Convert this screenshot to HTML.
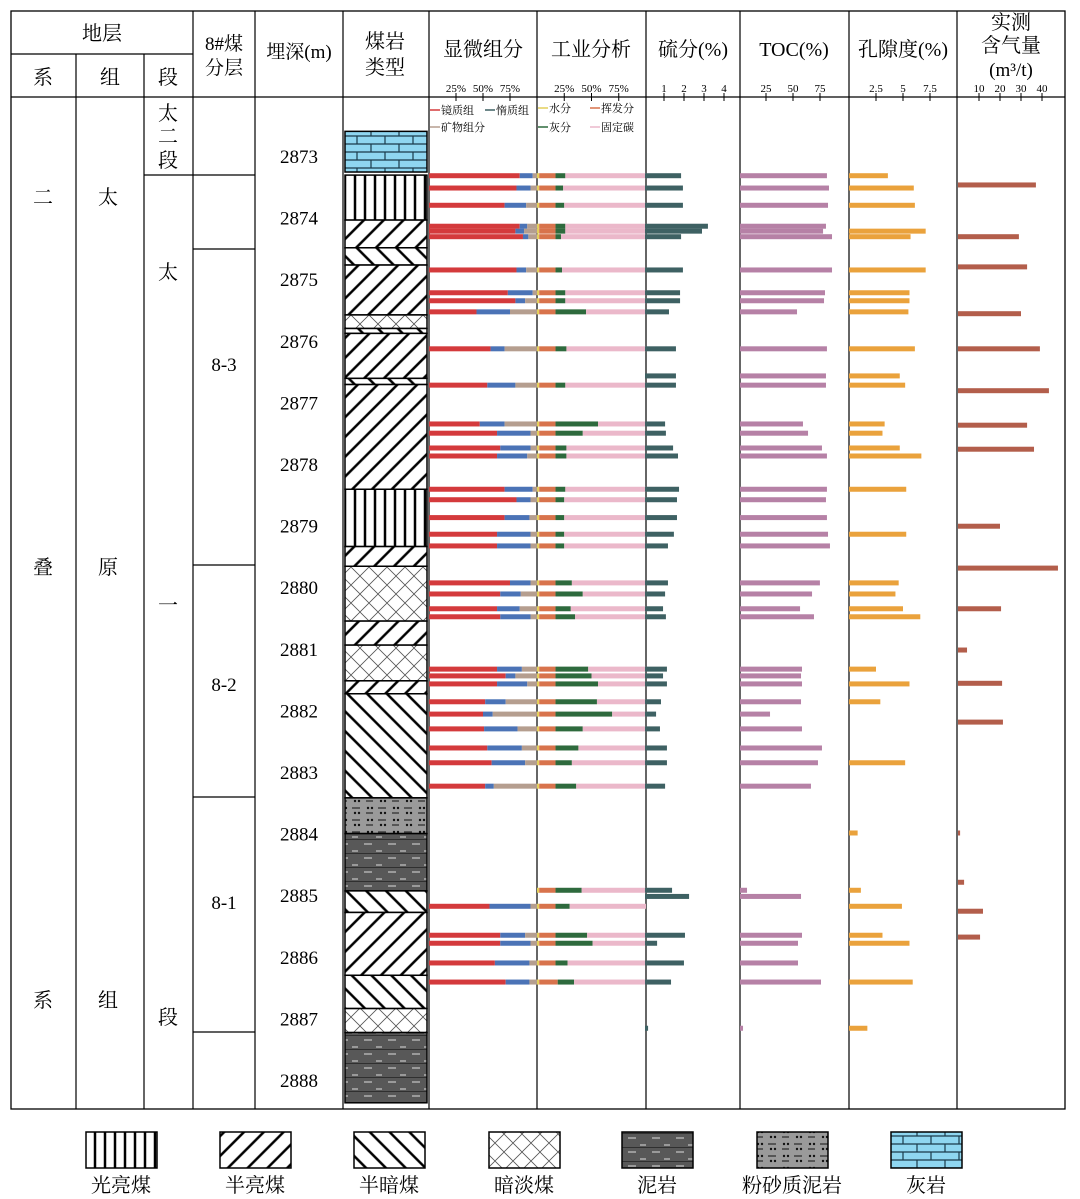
<!DOCTYPE html>
<html><head><meta charset="utf-8"><style>
html,body{margin:0;padding:0;background:#fff;}
svg{display:block;font-family:"Liberation Serif","Noto Serif CJK SC",serif;}
</style></head><body>
<svg id="c" width="1080" height="1199" viewBox="0 0 1080 1199" xmlns="http://www.w3.org/2000/svg">
<defs>
<pattern id="pBright" width="10" height="10" patternUnits="userSpaceOnUse"><rect width="10" height="10" fill="#fff"/><line x1="5" y1="0" x2="5" y2="10" stroke="#000" stroke-width="2.5"/></pattern>
<pattern id="pSemiB" width="14" height="14" patternUnits="userSpaceOnUse" patternTransform="rotate(45)"><rect width="14" height="14" fill="#fff"/><line x1="7" y1="0" x2="7" y2="14" stroke="#000" stroke-width="2.5"/></pattern>
<pattern id="pSemiD" width="14" height="14" patternUnits="userSpaceOnUse" patternTransform="rotate(-45)"><rect width="14" height="14" fill="#fff"/><line x1="7" y1="0" x2="7" y2="14" stroke="#000" stroke-width="2.5"/></pattern>
<pattern id="pDull" width="18" height="18" patternUnits="userSpaceOnUse"><rect width="18" height="18" fill="#fff"/><path d="M0 0L18 18M18 0L0 18" stroke="#555" stroke-width="0.8"/></pattern>
<pattern id="pMud" width="24" height="14" patternUnits="userSpaceOnUse"><rect width="24" height="14" fill="#585858"/><line x1="4" y1="4" x2="12" y2="4" stroke="#ddd" stroke-width="1"/><line x1="16" y1="11" x2="22" y2="11" stroke="#ddd" stroke-width="1"/><line x1="0" y1="13.5" x2="24" y2="13.5" stroke="#222" stroke-width="0.8"/></pattern>
<pattern id="pSilt" width="26" height="12" patternUnits="userSpaceOnUse"><rect width="26" height="12" fill="#9a9a9a"/><circle cx="4" cy="4" r="1.2" fill="#111"/><circle cx="8" cy="4" r="1.2" fill="#111"/><line x1="14" y1="4" x2="22" y2="4" stroke="#111"/><line x1="2" y1="9" x2="9" y2="9" stroke="#111"/><circle cx="17" cy="9" r="1.2" fill="#111"/><circle cx="21" cy="9" r="1.2" fill="#111"/></pattern>
<pattern id="pLime" width="28" height="16" patternUnits="userSpaceOnUse"><rect width="28" height="16" fill="#8fd6f0"/><path d="M0 0H28M0 8H28M0 16H28M7 0V8M21 8V16" stroke="#1a3a4a" stroke-width="1.2"/></pattern>
</defs>
<g id="grid"></g>
<g id="lith"></g>
<g id="bars"></g>
<g id="txt"></g>
</svg>
<script>
// ---- data ----
const rowDepth=[2873.32,2873.52,2873.80,2874.14,2874.22,2874.31,2874.85,2875.22,2875.35,2875.53,2876.13,2876.57,2876.72,2877.35,2877.50,2877.74,2877.87,2878.41,2878.58,2878.87,2879.14,2879.33,2879.93,2880.11,2880.35,2880.48,2881.33,2881.44,2881.57,2881.86,2882.06,2882.30,2882.61,2882.85,2883.23,2883.99,2884.92,2885.02,2885.18,2885.65,2885.78,2886.10,2886.41,2887.16];
const vitrinite=[84,81,70,84,80,87,81,73,80,44,57,null,54,47,63,66,63,70,81,70,63,63,75,66,63,66,63,71,63,52,50,51,54,58,52,null,null,null,56,66,66,61,71,null];
const inertinite=[12,13,20,7,8,5,9,23,9,31,13,null,26,23,31,28,28,26,13,23,31,31,19,19,21,28,23,9,28,19,9,31,32,31,8,null,null,null,38,23,28,32,22,null];
const moisture=[2,2,2,2,2,2,2,2,2,2,2,null,2,2,2,2,2,2,2,2,2,2,2,2,2,2,2,2,2,2,2,2,2,2,2,null,2,null,2,2,2,2,2,null];
const volatile=[15,15,15,15,15,15,15,15,15,15,15,null,15,15,15,15,15,15,15,15,15,15,15,15,15,15,15,15,15,15,15,15,15,15,15,null,15,null,15,15,15,15,17,null];
const ash=[9,7,8,9,9,5,6,9,9,28,10,null,9,39,25,10,10,9,8,8,8,8,15,25,14,18,30,33,39,38,52,25,21,15,19,null,24,null,13,29,34,11,15,null];
const sulfur=[1.76,1.85,1.85,3.07,2.78,1.76,1.85,1.71,1.71,1.17,1.51,1.51,1.51,0.98,1.02,1.37,1.61,1.66,1.56,1.56,1.41,1.12,1.12,0.98,0.88,1.02,1.07,0.88,1.07,0.78,0.54,0.73,1.07,1.07,0.98,null,1.32,2.15,null,1.95,0.59,1.9,1.27,0.15];
const toc=[80.5,82.4,81.5,79.6,76.9,85.2,85.2,78.7,77.8,52.8,80.5,79.6,79.6,58.3,63,75.9,80.5,80.5,79.6,80.5,81.5,83.3,74,66.7,55.6,68.5,57.4,56.5,57.4,56.5,27.8,57.4,75.9,72.2,65.7,null,6.5,56.5,null,57.4,53.7,53.7,75,2.8];
const porosity=[3.6,6.0,6.1,null,7.1,5.7,7.1,5.6,5.6,5.5,6.1,4.7,5.2,3.3,3.1,4.7,6.7,5.3,null,null,5.3,null,4.6,4.3,5.0,6.6,2.5,null,5.6,2.9,null,null,null,5.2,null,0.8,1.1,null,4.9,3.1,5.6,null,5.9,1.7];
const gasDepth=[2873.47,2874.31,2874.80,2875.56,2876.13,2876.81,2877.37,2877.76,2879.01,2879.69,2880.35,2881.02,2881.56,2882.19,2883.99,2884.79,2885.26,2885.68];
const gasContent=[37.1,29,32.9,30,39,43.3,32.9,36.2,20,47.6,20.5,4.3,21,21.4,1,2.9,11.9,10.5];
const depthTicks=[2873,2874,2875,2876,2877,2878,2879,2880,2881,2882,2883,2884,2885,2886,2887,2888];
const lithTop=[2872.6,2873.31,2874.04,2874.49,2874.77,2875.58,2875.80,2875.88,2876.61,2876.71,2878.41,2879.34,2879.66,2880.55,2880.94,2881.52,2881.73,2883.42,2884.0,2884.93,2885.28,2886.30,2886.84,2887.23];
const lithBot=[2873.26,2874.04,2874.49,2874.77,2875.58,2875.80,2875.88,2876.61,2876.71,2878.41,2879.34,2879.66,2880.55,2880.94,2881.52,2881.73,2883.42,2884.0,2884.93,2885.28,2886.30,2886.84,2887.23,2888.37];
const lithType=["pLime","pBright","pSemiB","pSemiD","pSemiB","pDull","pSemiD","pSemiB","pSemiD","pSemiB","pBright","pSemiB","pDull","pSemiB","pDull","pSemiB","pSemiD","pSilt","pMud","pSemiD","pSemiB","pSemiD","pDull","pMud"];

// ---- scales ----
const NS="http://www.w3.org/2000/svg";
const yD=d=>156+(d-2873)*61.6;
const xMicro=v=>429+v*1.08, xInd=v=>537+v*1.09, xS=v=>645+v*20.5, xToc=v=>740+v*1.08, xPor=v=>849+v*10.8, xGas=v=>958+v*2.1;
function el(tag,attrs,parent,text){const e=document.createElementNS(NS,tag);for(const k in attrs)e.setAttribute(k,attrs[k]);if(text!==undefined)e.textContent=text;parent.appendChild(e);return e;}
const G=document.getElementById('grid'),L=document.getElementById('lith'),B=document.getElementById('bars'),T=document.getElementById('txt');

// grid
el('rect',{x:11,y:11,width:1054,height:1098,fill:'none',stroke:'#000','stroke-width':1.3},G);
[76,144,193,255,343,429,537,646,740,849,957].forEach(x=>el('line',{x1:x,y1:x<193&&x>11?54:11,x2:x,y2:1109,stroke:'#000','stroke-width':1.2},G));
el('line',{x1:11,y1:54,x2:193,y2:54,stroke:'#000','stroke-width':1.2},G);
el('line',{x1:11,y1:97,x2:1065,y2:97,stroke:'#000','stroke-width':1.2},G);
el('line',{x1:144,y1:175,x2:255,y2:175,stroke:'#000','stroke-width':1.2},G);
[249,565,797,1032].forEach(y=>el('line',{x1:193,y1:y,x2:255,y2:y,stroke:'#000','stroke-width':1.2},G));

// lithology
for(let i=0;i<lithType.length;i++){
  const r=el('rect',{x:345,y:yD(lithTop[i]),width:82,height:yD(lithBot[i])-yD(lithTop[i]),fill:'url(#'+lithType[i]+')',stroke:'#000','stroke-width':1.5},L);
  
  
}

// bars
const H=5;
function bar(x1,x2,y,c,name){const r=el('rect',{x:x1,y:y-H/2,width:Math.max(0,x2-x1),height:H,fill:c},B);

}
for(let i=0;i<rowDepth.length;i++){
  const y=yD(rowDepth[i]);
  if(vitrinite[i]!=null){
    bar(xMicro(0),xMicro(vitrinite[i]),y,'#d43a3c','vitrinite-bar');
    bar(xMicro(vitrinite[i]),xMicro(vitrinite[i]+inertinite[i]),y,'#4b73b6','inertinite-bar');
    bar(xMicro(vitrinite[i]+inertinite[i]),xMicro(100),y,'#b59e8f','mineral-bar');
  }
  if(ash[i]!=null){
    const a=moisture[i],b=a+volatile[i],c=b+ash[i];
    bar(xInd(0),xInd(a),y,'#e3cf5c','moisture-bar');
    bar(xInd(a),xInd(b),y,'#d8734c','volatile-bar');
    bar(xInd(b),xInd(c),y,'#2e6a3d','ash-bar');
    bar(xInd(c),xInd(100),y,'#ebb8ca','fixed-carbon-bar');
  }
  if(sulfur[i]!=null) bar(xS(0),xS(sulfur[i]),y,'#3e6163','sulfur-bar');
  if(toc[i]!=null) bar(xToc(0),xToc(toc[i]),y,'#b681a6','toc-bar');
  if(porosity[i]!=null) bar(xPor(0),xPor(porosity[i]),y,'#eaa23c','porosity-bar');
}
for(let i=0;i<gasDepth.length;i++) bar(xGas(0),xGas(gasContent[i]),yD(gasDepth[i]),'#b35e4b','gas-content-bar');

// depth labels
depthTicks.forEach(d=>{const t=el('text',{x:299,y:yD(d)+7,'text-anchor':'middle','font-size':19},T,String(d));

});

// ticks
function ticks(vals,fx,labels){vals.forEach((v,k)=>{el('line',{x1:fx(v),y1:93,x2:fx(v),y2:101,stroke:'#000','stroke-width':1},T);
el('text',{x:fx(v),y:92,'text-anchor':'middle','font-size':11},T,labels[k]);});}
ticks([25,50,75],xMicro,['25%','50%','75%']);
ticks([25,50,75],xInd,['25%','50%','75%']);
ticks([1,2,3,4],v=>644+v*20,['1','2','3','4']);
ticks([25,50,75],v=>739+v*1.08,['25','50','75']);
ticks([2.5,5,7.5],xPor,['2.5','5','7.5']);
ticks([10,20,30,40],v=>958+v*2.1,['10','20','30','40']);

function tx(x,y,s,fs,name){const t=el('text',{x:x,y:y,'text-anchor':'middle','font-size':fs||20},T,s);

}
tx(102,40,'地层',20,'header-strata');tx(43,84,'系',20,'header-system');tx(110,84,'组',20,'header-formation');tx(168,84,'段',20,'header-member');
tx(224,50,'8#煤',19,'header-coal-layer');tx(224,74,'分层',19,'header-coal-layer');
tx(299,58,'埋深(m)',19,'header-depth');
tx(385,48,'煤岩',20,'header-coal-type');tx(385,74,'类型',20,'header-coal-type');
tx(483,56,'显微组分',20,'header-maceral');tx(591,56,'工业分析',20,'header-proximate');
tx(693,56,'硫分(%)',20,'header-sulfur');tx(794,56,'TOC(%)',20,'header-toc');tx(903,56,'孔隙度(%)',20,'header-porosity');
tx(1011,29,'实测',20,'header-gas');tx(1011,52,'含气量',20,'header-gas');tx(1011,76,'(m³/t)',19,'header-gas');
// legends in columns
function lg(x,y,c,s){el('line',{x1:x,y1:y-4,x2:x+10,y2:y-4,stroke:c,'stroke-width':1.5},T);el('text',{x:x+11,y:y,'font-size':11},T,s);}
lg(430,114,'#d43a3c','镜质组');lg(485,114,'#3e6163','惰质组');lg(430,131,'#b59e8f','矿物组分');
lg(538,112,'#e3cf5c','水分');lg(590,112,'#d8734c','挥发分');lg(538,131,'#2e6a3d','灰分');lg(590,131,'#ebb8ca','固定碳');
// stratigraphy
tx(43,204,'二');tx(43,574,'叠');tx(43,1007,'系');
tx(108,204,'太');tx(108,574,'原');tx(108,1007,'组');
tx(168,120,'太');tx(168,143,'二');tx(168,167,'段');tx(168,279,'太');tx(168,612,'一');tx(168,1024,'段');
tx(224,371,'8-3',19,'coal-layer-label');tx(224,691,'8-2',19,'coal-layer-label');tx(224,909,'8-1',19,'coal-layer-label');

// bottom legend
const legFill=['pBright','pSemiB','pSemiD','pDull','pMud','pSilt','pLime'];
const legName=['光亮煤','半亮煤','半暗煤','暗淡煤','泥岩','粉砂质泥岩','灰岩'];
const legX=[86,220,354,489,622,757,891];
legFill.forEach((f,k)=>{const r=el('rect',{x:legX[k],y:1132,width:71,height:36,fill:'url(#'+f+')',stroke:'#000','stroke-width':1.5},T);


tx(legX[k]+35,1192,legName[k],20,'legend-label');});
</script>
</body></html>
